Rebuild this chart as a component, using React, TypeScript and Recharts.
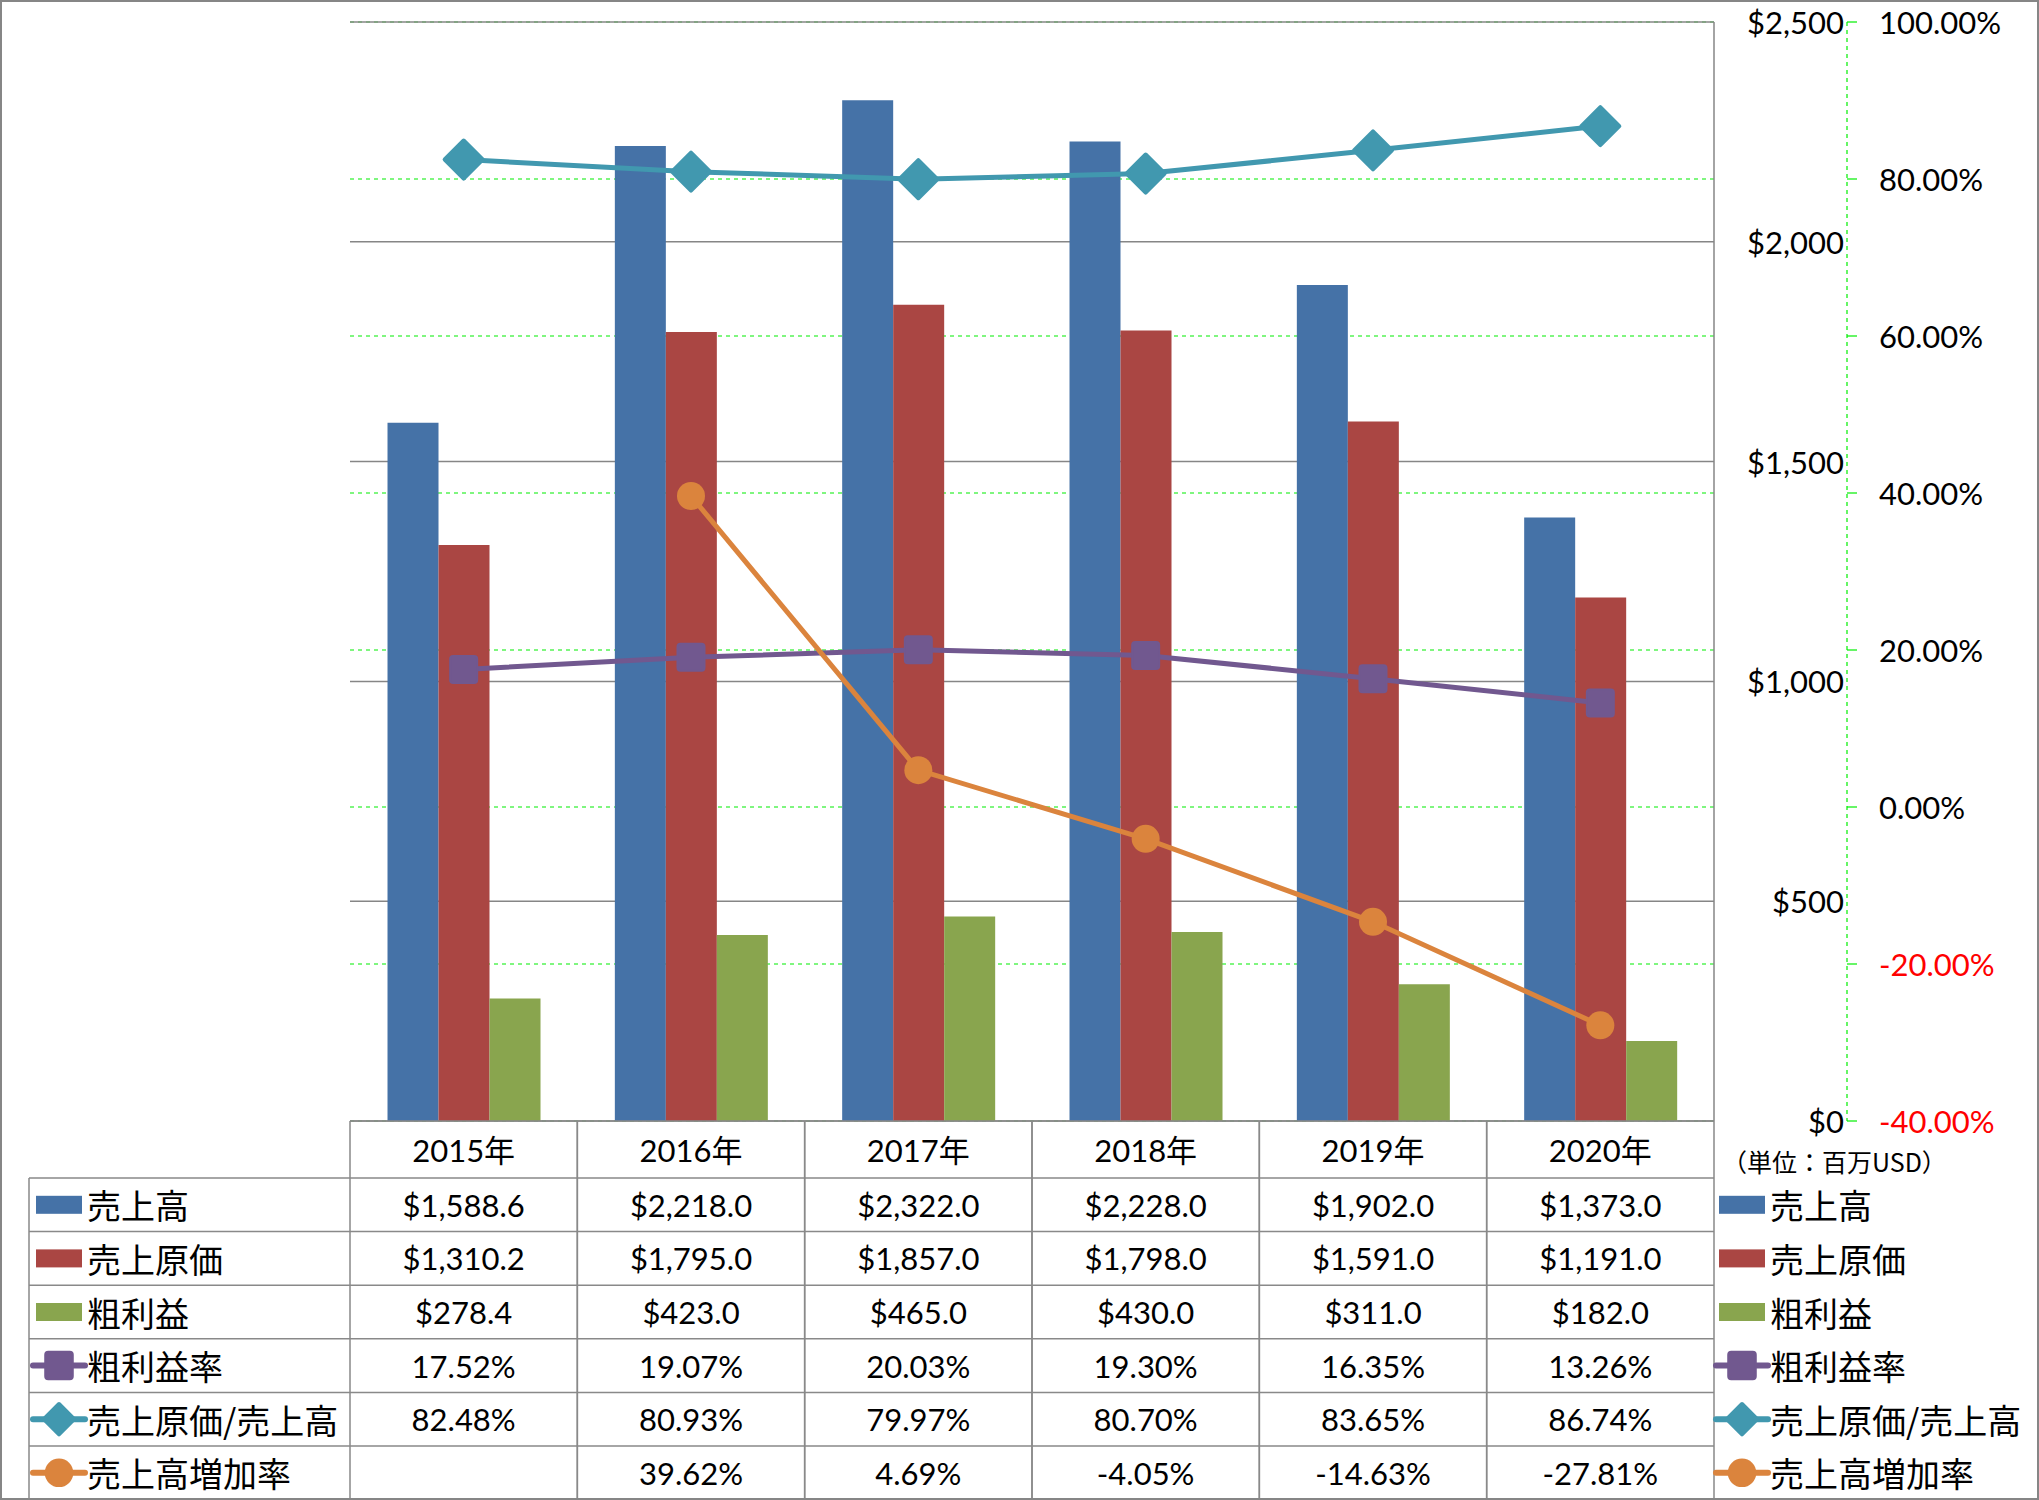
import React from "react";
import { ComposedChart, Bar, Line, XAxis, YAxis, CartesianGrid } from "recharts";

// values in million USD / percent
const years = ["2015年", "2016年", "2017年", "2018年", "2019年", "2020年"];
const sales = [1588.6, 2218.0, 2322.0, 2228.0, 1902.0, 1373.0];
const costOfSales = [1310.2, 1795.0, 1857.0, 1798.0, 1591.0, 1191.0];
const grossProfit = [278.4, 423.0, 465.0, 430.0, 311.0, 182.0];
const grossMargin = [17.52, 19.07, 20.03, 19.3, 16.35, 13.26];
const costRatio = [82.48, 80.93, 79.97, 80.7, 83.65, 86.74];
const salesGrowth: (number | null)[] = [null, 39.62, 4.69, -4.05, -14.63, -27.81];

const usdTicks = [0, 500, 1000, 1500, 2000, 2500];
const pctTicks = [-40, -20, 0, 20, 40, 60, 80, 100];

const W = 2039;
const H = 1500;
const PLOT_LEFT = 350;
const PLOT_TOP = 22;
const AXIS_H = 379;
const USD_W = 133;
const PCT_W = 192;
const PLOT_RIGHT = W - USD_W - PCT_W;
const PLOT_BOTTOM = H - AXIS_H;
const COL_W = (PLOT_RIGHT - PLOT_LEFT) / years.length;
const HEADER_H = 57;
const ROW_H = 53.6;

// axis ids sort so the $ axis sits next to the plot
const USD_AXIS = "a_usd";
const PCT_AXIS = "b_pct";

const FONT = "Lato, 'Noto Sans CJK JP', sans-serif";
const JP_FONT = "'Noto Sans CJK JP', sans-serif";
const LINE_GRAY = "#898989";
const GREEN = "#00ee00";

const fmtUsd = (v: number | null) =>
  v == null
    ? ""
    : "$" + v.toLocaleString("en-US", { minimumFractionDigits: 1, maximumFractionDigits: 1 });
const fmtPct = (v: number | null) => (v == null ? "" : v.toFixed(2) + "%");

type Kind = "bar" | "square" | "diamond" | "circle";
const series: { key: string; label: string; color: string; kind: Kind; values: (number | null)[]; fmt: (v: number | null) => string }[] = [
  { key: "sales", label: "売上高", color: "#4572A7", kind: "bar", values: sales, fmt: fmtUsd },
  { key: "cost", label: "売上原価", color: "#AA4643", kind: "bar", values: costOfSales, fmt: fmtUsd },
  { key: "gross", label: "粗利益", color: "#89A54E", kind: "bar", values: grossProfit, fmt: fmtUsd },
  { key: "margin", label: "粗利益率", color: "#71588F", kind: "square", values: grossMargin, fmt: fmtPct },
  { key: "ratio", label: "売上原価/売上高", color: "#4198AF", kind: "diamond", values: costRatio, fmt: fmtPct },
  { key: "growth", label: "売上高増加率", color: "#DB843D", kind: "circle", values: salesGrowth, fmt: fmtPct },
];

const data = years.map((year, i) => {
  const row: Record<string, string | number | null> = { year };
  series.forEach((s) => (row[s.key] = s.values[i]));
  return row;
});

function Marker({ kind, cx, cy, color, scale = 1 }: { kind: Kind; cx: number; cy: number; color: string; scale?: number }) {
  if (kind === "diamond") {
    const r = 19 * scale;
    return (
      <polygon
        points={`${cx},${cy - r} ${cx + r},${cy} ${cx},${cy + r} ${cx - r},${cy}`}
        fill={color}
        stroke={color}
        strokeWidth={4}
        strokeLinejoin="round"
      />
    );
  }
  if (kind === "square") {
    const s = 27 * scale;
    return <rect x={cx - s / 2} y={cy - s / 2} width={s} height={s} rx={3} fill={color} stroke={color} strokeWidth={2} />;
  }
  return <circle cx={cx} cy={cy} r={14 * scale} fill={color} />;
}

const makeDot = (kind: Kind, color: string) => (p: any) => {
  if (p.cx == null || p.cy == null || p.value == null) return <g key={p.index} />;
  return (
    <g key={p.index}>
      <Marker kind={kind} cx={p.cx} cy={p.cy} color={color} />
    </g>
  );
};

function LegendItem({ s, x, cy }: { s: (typeof series)[number]; x: number; cy: number }) {
  return (
    <g>
      {s.kind === "bar" ? (
        <rect x={x + 3} y={cy - 9} width={46} height={18} fill={s.color} />
      ) : (
        <g>
          <line x1={x} x2={x + 52} y1={cy} y2={cy} stroke={s.color} strokeWidth={6} strokeLinecap="round" />
          <Marker kind={s.kind} cx={x + 26} cy={cy} color={s.color} scale={s.kind === "diamond" ? 0.8 : 1.02} />
        </g>
      )}
      <text x={x + 54} y={cy} dominantBaseline="central" fontFamily={JP_FONT} fontSize={34} fill="#000">
        {s.label}
      </text>
    </g>
  );
}

function TableColumn(props: any) {
  const { x, payload } = props;
  const i = payload.index;
  const left = x - COL_W / 2;
  const right = x + COL_W / 2;
  const top = PLOT_BOTTOM;
  const bottom = top + HEADER_H + ROW_H * series.length;
  return (
    <g>
      <line x1={left} x2={left} y1={top} y2={bottom} stroke={LINE_GRAY} strokeWidth={1.5} />
      <line x1={right} x2={right} y1={top} y2={bottom} stroke={LINE_GRAY} strokeWidth={1.5} />
      <line x1={left} x2={right} y1={top} y2={top} stroke={LINE_GRAY} strokeWidth={1.5} />
      <text x={x} y={top + HEADER_H / 2} textAnchor="middle" dominantBaseline="central" fontFamily={FONT} fontSize={31} fill="#000">
        {payload.value}
      </text>
      {series.map((s, r) => {
        const rowTop = top + HEADER_H + r * ROW_H;
        return (
          <g key={s.key}>
            <line x1={left} x2={right} y1={rowTop} y2={rowTop} stroke={LINE_GRAY} strokeWidth={1.5} />
            <text x={x} y={rowTop + ROW_H / 2} textAnchor="middle" dominantBaseline="central" fontFamily={FONT} fontSize={31} fill="#000">
              {s.fmt(s.values[i])}
            </text>
          </g>
        );
      })}
    </g>
  );
}

function UsdTick(props: any) {
  const { y, payload } = props;
  return (
    <text x={PLOT_RIGHT + 130} y={y} textAnchor="end" dominantBaseline="central" fontFamily={FONT} fontSize={31} fill="#000">
      {"$" + payload.value.toLocaleString("en-US")}
    </text>
  );
}

function PctTick(props: any) {
  const { y, payload } = props;
  return (
    <text x={PLOT_RIGHT + USD_W + 32} y={y} textAnchor="start" dominantBaseline="central" fontFamily={FONT} fontSize={31} fill={payload.value < 0 ? "#ff0000" : "#000"}>
      {payload.value.toFixed(2) + "%"}
    </text>
  );
}

export default function App() {
  const tableTop = PLOT_BOTTOM + HEADER_H;
  return (
    <div style={{ position: "relative", width: W, height: H, background: "#fff" }}>
      <style>{`body{margin:0}`}</style>
      <ComposedChart
        width={W}
        height={H}
        data={data}
        margin={{ top: PLOT_TOP, right: 0, bottom: 0, left: PLOT_LEFT }}
        barCategoryGap="16.5%"
        barGap={0}
      >
        <CartesianGrid yAxisId={PCT_AXIS} vertical={false} stroke={GREEN} strokeDasharray="4 4" strokeWidth={1.2} />
        <CartesianGrid yAxisId={USD_AXIS} vertical={false} stroke="#868686" strokeWidth={1.5} />
        <XAxis dataKey="year" interval={0} height={AXIS_H} axisLine={false} tickLine={false} tickSize={0} tickMargin={0} tick={<TableColumn />} />
        <YAxis
          yAxisId={USD_AXIS}
          orientation="right"
          width={USD_W}
          domain={[0, 2500]}
          ticks={usdTicks}
          axisLine={{ stroke: "#868686", strokeWidth: 1.5 }}
          tickLine={false}
          tick={<UsdTick />}
        />
        <YAxis
          yAxisId={PCT_AXIS}
          orientation="right"
          width={PCT_W}
          domain={[-40, 100]}
          ticks={pctTicks}
          axisLine={{ stroke: GREEN, strokeDasharray: "4 4", strokeWidth: 1.2 }}
          tickLine={{ stroke: GREEN, strokeWidth: 1.2 }}
          tickSize={10}
          tick={<PctTick />}
        />
        {series
          .filter((s) => s.kind === "bar")
          .map((s) => (
            <Bar key={s.key} yAxisId={USD_AXIS} dataKey={s.key} fill={s.color} isAnimationActive={false} />
          ))}
        {series
          .filter((s) => s.kind !== "bar")
          .map((s) => (
            <Line
              key={s.key}
              yAxisId={PCT_AXIS}
              type="linear"
              dataKey={s.key}
              stroke={s.color}
              strokeWidth={5}
              dot={makeDot(s.kind, s.color)}
              activeDot={false}
              isAnimationActive={false}
            />
          ))}
      </ComposedChart>
      <svg width={W} height={H} style={{ position: "absolute", left: 0, top: 0, pointerEvents: "none" }}>
        <rect x={1} y={1} width={W - 2} height={H - 2} fill="none" stroke="#868686" strokeWidth={2} />
        {/* left row-header column of the data table */}
        <line x1={29} x2={29} y1={tableTop} y2={H} stroke={LINE_GRAY} strokeWidth={1.5} />
        {series.map((s, r) => {
          const rowTop = tableTop + r * ROW_H;
          return (
            <g key={s.key}>
              <line x1={29} x2={PLOT_LEFT} y1={rowTop} y2={rowTop} stroke={LINE_GRAY} strokeWidth={1.5} />
              <LegendItem s={s} x={33} cy={rowTop + ROW_H / 2} />
              <LegendItem s={s} x={1716} cy={rowTop + ROW_H / 2} />
            </g>
          );
        })}
        <text x={1722} y={PLOT_BOTTOM + 40} dominantBaseline="central" fontFamily={JP_FONT} fontSize={25} fill="#000">
          （単位：百万USD）
        </text>
      </svg>
    </div>
  );
}
